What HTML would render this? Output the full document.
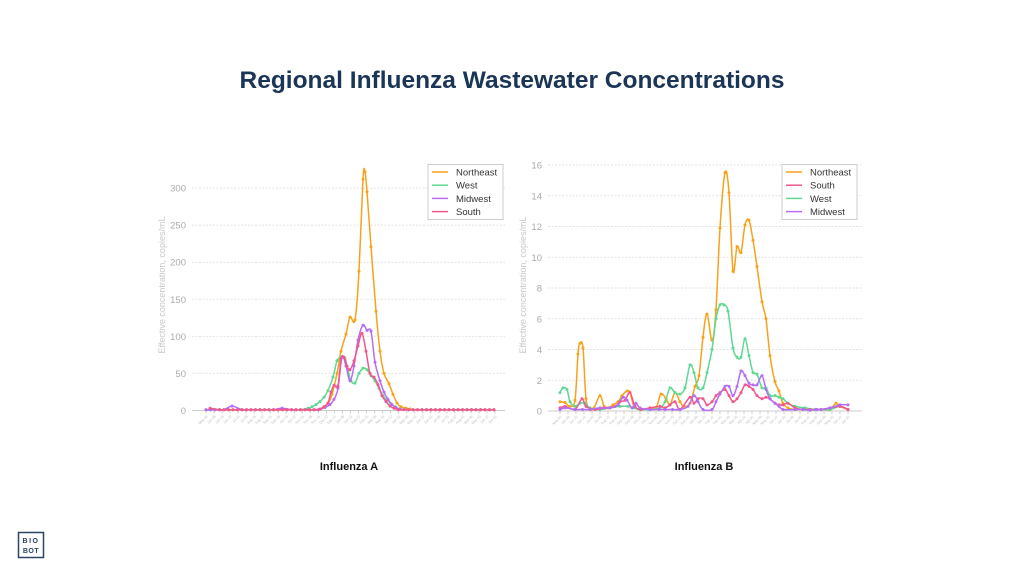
<!DOCTYPE html>
<html><head><meta charset="utf-8"><style>
html,body{margin:0;padding:0;background:#fff;width:1024px;height:576px;overflow:hidden;font-family:"Liberation Sans",sans-serif}
</style></head><body>
<svg id="s" width="1024" height="576" xmlns="http://www.w3.org/2000/svg" font-family="Liberation Sans, sans-serif">
<text x="512" y="88" text-anchor="middle" font-size="24.5" font-weight="bold" fill="#1b3556">Regional Influenza Wastewater Concentrations</text>
<text x="349" y="470" text-anchor="middle" font-size="11" font-weight="bold" fill="#111">Influenza A</text>
<text x="704" y="470" text-anchor="middle" font-size="11" font-weight="bold" fill="#111">Influenza B</text>
<rect x="18.5" y="532.5" width="25" height="25" fill="none" stroke="#2c4466" stroke-width="1.5"/>
<text x="31" y="543" text-anchor="middle" font-size="7" font-weight="bold" fill="#2c4466" letter-spacing="1.5">BIO</text>
<text x="31" y="553" text-anchor="middle" font-size="7" font-weight="bold" fill="#2c4466" letter-spacing="0.5">BOT</text>
<g id="g"></g>
</svg>
<script>
const C={NE:"#f7a21b",W:"#5fd892",MW:"#b56df3",S:"#f2578b"};
const g=document.getElementById('g');let h='';
function path(pts,ymax){const cl=v=>Math.min(v,ymax);let d='M'+pts[0][0]+','+pts[0][1].toFixed(1);for(let i=0;i<pts.length-1;i++){const p0=pts[i-1]||pts[i],p1=pts[i],p2=pts[i+1],p3=pts[i+2]||p2;const c1=[p1[0]+(p2[0]-p0[0])/6,cl(p1[1]+(p2[1]-p0[1])/6)],c2=[p2[0]-(p3[0]-p1[0])/6,cl(p2[1]-(p3[1]-p1[1])/6)];d+=`C${c1[0].toFixed(1)},${c1[1].toFixed(1)} ${c2[0].toFixed(1)},${c2[1].toFixed(1)} ${p2[0]},${p2[1].toFixed(1)}`;}return d;}
function fill(arr,x0,x1,step,base){const xs=arr.map(p=>p[0]);let out=[...arr];for(let x=x0;x<=x1+0.01;x+=step){if(!xs.some(v=>Math.abs(v-x)<6))out.push([x,base]);}return out.sort((a,b)=>a[0]-b[0]);}
function chart(o){
 const {gx0,gx1,y0,ppu,ticks}=o;
 ticks.forEach(t=>{const y=y0-t*ppu;h+=`<line x1="${gx0}" x2="${gx1}" y1="${y}" y2="${y}" stroke="${t==0?'#ccc':'#e2e2e2'}" stroke-dasharray="${t==0?'':'2,1.5'}"/>`;h+=`<text x="${gx0-6}" y="${y+3.5}" text-anchor="end" font-size="9.5" fill="#aaa">${t}</text>`});
 h+=`<text transform="translate(${o.labx},${o.laby}) rotate(-90)" text-anchor="middle" font-size="9" fill="#c8c8c8">Effective concentration, copies/mL</text>`;
 const mons=["May","Jun","Jun","Jun","Jul","Jul","Aug","Aug","Sep","Sep","Oct","Oct","Nov","Nov","Nov","Dec","Dec","Jan","Jan","Feb","Feb","Mar","Mar","Apr","Apr","May","May","Jun","Jun","Jul","Jul","Aug","Aug","Sep"];
 const n=37;for(let i=0;i<n;i++){const x=o.px0+(o.px1-o.px0)*i/(n-1);h+=`<line x1="${x}" x2="${x}" y1="${y0}" y2="${y0+3}" stroke="#ccc"/>`;h+=`<text transform="translate(${x+2},${y0+6}) rotate(-45)" text-anchor="end" font-size="3.5" fill="#bbb">${mons[i%mons.length]} ${String((i*7)%28+1).padStart(2,'0')}</text>`}
 o.series.forEach(s=>{const pts=fill(s.d,o.px0,o.px1,4.5,s.base).map(p=>[p[0],y0-p[1]*ppu]);h+=`<path d="${path(pts,y0)}" fill="none" stroke="${C[s.k]}" stroke-width="1.5"/>`;pts.forEach(p=>h+=`<circle cx="${p[0]}" cy="${p[1].toFixed(1)}" r="1.5" fill="${C[s.k]}"/>`)});
 const L=o.leg;h+=`<rect x="${L.x}" y="164.5" width="75" height="55" fill="#fff" stroke="#ccc"/>`;
 L.items.forEach((it,i)=>{const y=172+i*13.2;h+=`<line x1="${L.x+4}" x2="${L.x+20}" y1="${y}" y2="${y}" stroke="${C[it[0]]}" stroke-width="1.5"/><text x="${L.x+28}" y="${y+3.5}" font-size="9.5" fill="#333">${it[1]}</text>`});
}
chart({gx0:192,gx1:505,y0:410.5,ppu:37.07/50,ticks:[0,50,100,150,200,250,300],labx:165,laby:285,px0:206,px1:495,
 leg:{x:428,items:[["NE","Northeast"],["W","West"],["MW","Midwest"],["S","South"]]},
 series:[
 {k:"NE",base:1,d:[[328,10],[332,22],[337,50],[341,80],[346,103],[350,126],[355,122],[359,188],[363,312],[365,322],[367,295],[371,221],[376,134],[380,80],[384,50],[389,36],[393,22],[397,10],[401,5],[406,3],[410,2]]},
 {k:"W",base:1,d:[[308,3],[312,5],[316,8],[320,12],[324,18],[328,27],[333,45],[337,67],[341,72],[345,70],[348,55],[351,40],[355,37],[359,50],[363,57],[367,55],[371,47],[375,40],[379,30],[383,20],[387,14],[391,9],[395,5],[399,2]]},
 {k:"MW",base:1,d:[[232,6],[282,3],[325,4],[330,8],[334,15],[338,30],[342,72],[346,60],[350,40],[354,60],[358,95],[363,115],[367,108],[371,107],[375,65],[380,40],[384,25],[388,15],[392,8],[396,4],[400,2]]},
 {k:"S",base:1,d:[[210,3],[320,2],[324,5],[328,10],[331,25],[334,34],[338,33],[341,70],[344,72],[347,60],[350,55],[354,67],[358,87],[362,104],[366,80],[370,50],[374,45],[378,35],[382,20],[386,12],[390,6],[394,3],[398,1]]}
 ]});
chart({gx0:548,gx1:862,y0:411,ppu:15.375,ticks:[0,2,4,6,8,10,12,14,16],labx:526,laby:285,px0:560,px1:848,
 leg:{x:782,items:[["NE","Northeast"],["S","South"],["W","West"],["MW","Midwest"]]},
 series:[
 {k:"NE",base:0.1,d:[[560,.6],[565,.55],[570,.3],[575,.7],[578,3.7],[580,4.4],[583,4.1],[586,.8],[590,.1],[594,.2],[600,1.0],[604,.3],[608,.2],[613,.4],[618,.6],[622,1.0],[627,1.3],[630,1.2],[634,.3],[640,.1],[650,.2],[656,.2],[661,1.1],[666,.8],[670,.4],[675,1.2],[680,.6],[684,.3],[690,.5],[695,1.6],[699,2.3],[703,4.8],[707,6.3],[712,4.6],[716,6.6],[720,11.9],[725,15.5],[729,14.2],[733,9.1],[737,10.7],[741,10.3],[745,12.1],[749,12.4],[753,11.1],[757,9.4],[762,7.1],[766,6.0],[770,3.6],[775,1.9],[779,1.3],[783,.5],[788,.2],[795,.1],[810,.05],[830,.1],[836,.5],[840,.3],[848,.1]]},
 {k:"W",base:0.1,d:[[560,1.2],[563,1.5],[567,1.4],[570,.6],[575,.3],[580,.5],[585,.5],[590,.2],[600,.1],[610,.2],[620,.3],[628,.3],[633,.2],[640,.1],[650,.1],[660,.2],[665,.6],[670,1.5],[675,1.2],[680,1.1],[685,1.5],[690,3.0],[694,2.5],[698,1.5],[703,1.5],[707,2.5],[712,4.0],[716,6.0],[720,6.9],[724,6.9],[728,6.5],[733,4.1],[737,3.5],[741,3.5],[745,4.7],[749,3.6],[753,2.5],[757,2.4],[762,1.5],[766,1.5],[770,1.0],[775,1.0],[779,.9],[783,.8],[788,.5],[795,.3],[805,.2],[815,.1],[830,.1],[840,.3],[848,.1]]},
 {k:"S",base:0.1,d:[[560,.2],[565,.3],[575,.1],[582,.8],[586,.3],[595,.1],[605,.2],[615,.3],[620,.6],[625,.7],[630,1.2],[635,.3],[650,.2],[660,.3],[665,.2],[670,.4],[675,.6],[680,.1],[690,.9],[694,.5],[698,.8],[703,.8],[707,.4],[712,.6],[716,1.0],[720,1.2],[725,1.4],[729,1.0],[733,.6],[737,.8],[741,1.2],[745,1.7],[749,1.6],[753,1.4],[757,1.0],[762,.8],[766,.9],[770,.8],[775,.5],[779,.4],[783,.4],[788,.5],[795,.2],[810,.1],[830,.2],[840,.3],[848,.1]]},
 {k:"MW",base:0.1,d:[[560,.1],[565,.2],[575,.1],[590,.1],[600,.2],[610,.2],[618,.4],[623,.9],[627,.7],[632,.2],[636,.5],[640,.2],[650,.1],[665,.1],[680,.1],[688,.3],[694,1.0],[698,.6],[703,.1],[712,.1],[716,.6],[720,1.1],[725,1.6],[729,1.6],[733,1.0],[737,1.6],[741,2.6],[745,2.3],[749,1.8],[753,1.7],[757,1.7],[762,2.3],[766,1.4],[770,.8],[775,.5],[779,.3],[783,.1],[795,.1],[810,.05],[830,.2],[840,.4],[848,.4]]}
 ]});
g.innerHTML=h;
</script>
</body></html>
